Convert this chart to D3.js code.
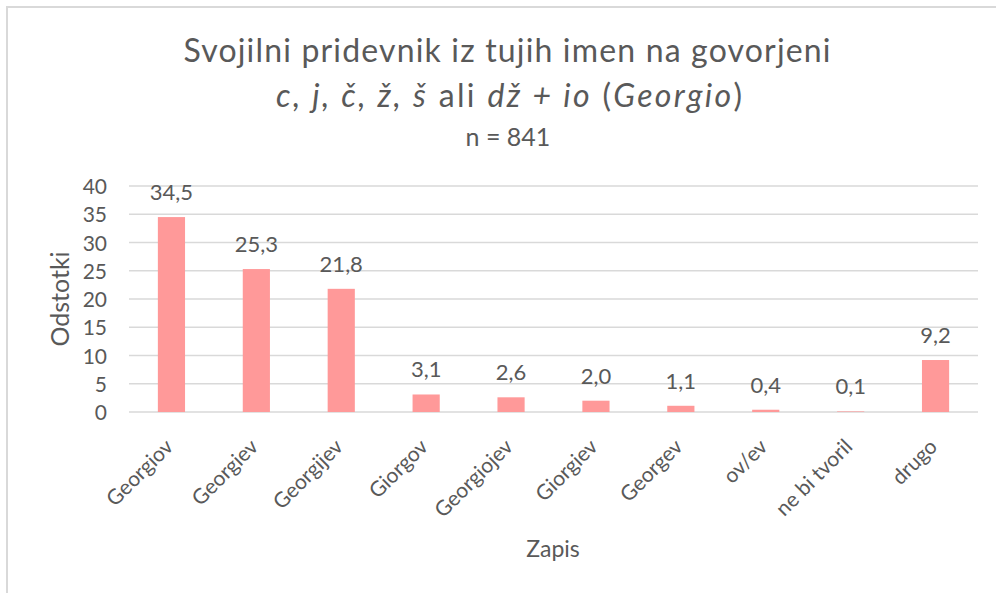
<!DOCTYPE html>
<html><head><meta charset="utf-8">
<script src="https://cdn.jsdelivr.net/npm/d3@7"></script>
<style>
body{margin:0;background:#fff;}
text{font-family:Lato,"Open Sans",sans-serif;fill:#595959;}
</style></head>
<body><svg id="c" width="996" height="593"></svg>
<script>
const categories=["Georgiov","Georgiev","Georgijev","Giorgov","Georgiojev","Giorgiev","Georgev","ov/ev","ne bi tvoril","drugo"];
const values=[34.5,25.3,21.8,3.1,2.6,2.0,1.1,0.4,0.1,9.2];
const labels=["34,5","25,3","21,8","3,1","2,6","2,0","1,1","0,4","0,1","9,2"];
const yTicks=[0,5,10,15,20,25,30,35,40];

const svg=d3.select("#c");
svg.append("path").attr("d","M7,593 V7 H996").attr("fill","none").attr("stroke","#d9d9d9").attr("stroke-width",2);

const x=d3.scaleBand().domain(categories).range([129,978]).paddingInner(0.68).paddingOuter(0.34);
const y=d3.scaleLinear().domain([0,40]).range([412,186]);

const g=svg.append("g");
g.selectAll("line.grid").data(yTicks).join("line").attr("class","grid")
 .attr("x1",129).attr("x2",978).attr("y1",d=>y(d)).attr("y2",d=>y(d))
 .attr("stroke","#d9d9d9").attr("stroke-width",1.5);

const ya=d3.axisLeft(y).tickValues(yTicks).tickSize(0).tickPadding(0);
const yg=svg.append("g").attr("transform","translate(107,0)").call(ya);
yg.select(".domain").remove();
yg.selectAll("text").style("font-size","21px").attr("fill","#595959").attr("dy","0.36em").style("font-family","Lato");

g.selectAll("rect").data(values).join("rect")
 .attr("x",(d,i)=>x(categories[i])).attr("width",x.bandwidth())
 .attr("y",d=>y(d)).attr("height",d=>y(0)-y(d)).attr("fill","#ff9999");

g.selectAll("text.v").data(values).join("text").attr("class","v")
 .attr("x",(d,i)=>x(categories[i])+x.bandwidth()/2).attr("y",d=>y(d)-17)
 .attr("text-anchor","middle").style("font-size","22px").text((d,i)=>labels[i]);

const axY=412;
const xa=d3.axisBottom(x).tickSize(0).tickPadding(0);
const xg=svg.append("g").attr("transform",`translate(0,${axY})`).call(xa);
xg.select(".domain").remove();
xg.selectAll("text").style("font-size","21px").attr("fill","#595959").style("font-family","Lato")
 .attr("text-anchor","end").attr("y",0).attr("dy",0).attr("transform","translate(3,36) rotate(-45)");

svg.append("text").attr("transform","translate(69,299) rotate(-90)").attr("text-anchor","middle").style("font-size","25px").text("Odstotki");
svg.append("text").attr("x",553).attr("y",557).attr("text-anchor","middle").style("font-size","23px").text("Zapis");

svg.append("text").attr("x",507).attr("y",62).attr("text-anchor","middle").style("font-size","32px")
 .attr("textLength",647).attr("lengthAdjust","spacing").text("Svojilni pridevnik iz tujih imen na govorjeni");
const t2=svg.append("text").attr("x",509).attr("y",107).attr("text-anchor","middle").style("font-size","32px")
 .attr("textLength",466).attr("lengthAdjust","spacing");
t2.append("tspan").style("font-style","italic").text("c, j, č, ž, š");
t2.append("tspan").text(" ali ");
t2.append("tspan").style("font-style","italic").text("dž + io");
t2.append("tspan").text(" (");
t2.append("tspan").style("font-style","italic").text("Georgio");
t2.append("tspan").text(")");
svg.append("text").attr("x",508).attr("y",146).attr("text-anchor","middle").style("font-size","25px").text("n = 841");
</script></body></html>
